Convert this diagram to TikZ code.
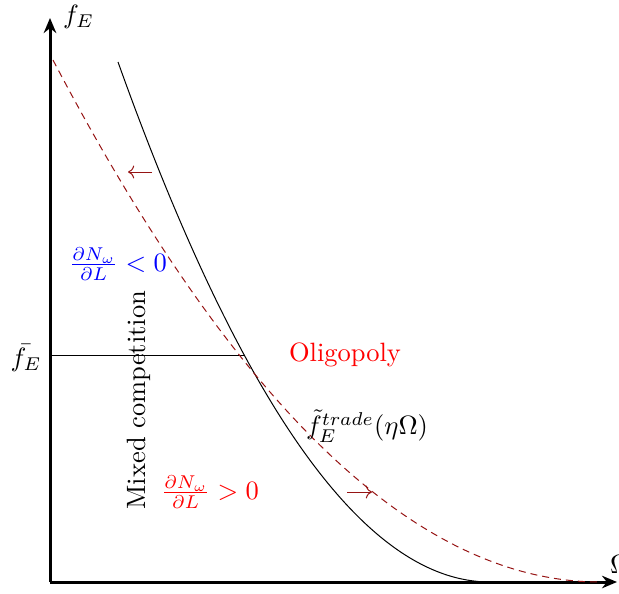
\documentclass[tikz,border=0pt]{standalone}
\usetikzlibrary{arrows.meta}
\definecolor{darkred}{RGB}{150,20,20}
\begin{document}
\begin{tikzpicture}[x=0.4pt,y=-0.4pt,
  every node/.style={scale=1.06},
  axis/.style={line width=1.2pt,-{Stealth[length=6pt,width=5pt]}},
  curvedash/.style={darkred,dashed,dash pattern=on 2.8pt off 2pt},
  moveArrow/.style={darkred,->}]
\useasboundingbox (0,0) rectangle (619,593);
\coordinate (O) at (50,582);
\coordinate (Ytop) at (50,18);
\coordinate (Xend) at (617,582);
\draw[axis] (O) -- (Ytop);
\draw[axis] (O) -- (Xend);
\node[anchor=west,inner sep=1pt] (fE) at (60,17) {$f_E$};
\node[anchor=west,inner sep=1pt] (Om) at (607,564) {$\Omega$};
\node (fbar) at (26,358) {$\bar{f_E}$};
\coordinate (h1) at (50,355);
\coordinate (h2) at (245,355);
\draw (h1) -- (h2);
% solid curve
\draw (118,62) .. controls (242,408.67) and (366,582) .. (490,582);
% dashed curve
\draw[curvedash] (53,60) .. controls (235.33,408) and (417.67,582) .. (600,582);
% arrows
\coordinate (a1s) at (152,172);
\coordinate (a1e) at (128,172);
\coordinate (a2s) at (347,492);
\coordinate (a2e) at (372,492);
\draw[moveArrow] (a1s) -- (a1e);
\draw[moveArrow] (a2s) -- (a2e);
\node[text=red] (olig) at (345,355) {Oligopoly};
\node (ftr) at (367,426) {$\tilde{f}_E^{trade}(\eta\Omega)$};
\node[text=blue] (neg) at (118,264) {$\frac{\partial N_\omega}{\partial L}<0$};
\node[text=red] (pos) at (210,492) {$\frac{\partial N_\omega}{\partial L}>0$};
\node[rotate=90] (mixed) at (139,400) {Mixed competition};
\end{tikzpicture}
\end{document}
